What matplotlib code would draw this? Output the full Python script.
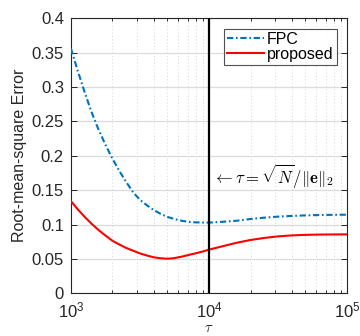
import matplotlib
matplotlib.use("Agg")
import matplotlib.pyplot as plt
import numpy as np

plt.rcParams['font.family'] = ['Liberation Sans', 'DejaVu Sans']
plt.rcParams['mathtext.fontset'] = 'cm'

log_tau = [3.0, 3.05, 3.1, 3.15, 3.2, 3.25, 3.3, 3.35, 3.4, 3.45, 3.5,
           3.55, 3.6, 3.65, 3.7, 3.75, 3.8, 3.85, 3.9, 3.95, 4.0,
           4.1, 4.2, 4.3, 4.4, 4.5, 4.6, 4.7, 4.8, 4.9, 5.0]
fpc = [0.356, 0.323, 0.292, 0.263, 0.238, 0.216, 0.196, 0.178, 0.162, 0.147, 0.136,
       0.128, 0.121, 0.1155, 0.111, 0.108, 0.1055, 0.104, 0.1032, 0.103, 0.1028,
       0.104, 0.1055, 0.108, 0.110, 0.1115, 0.1125, 0.1133, 0.1138, 0.1141, 0.1143]
proposed = [0.134, 0.122, 0.111, 0.101, 0.092, 0.084, 0.0765, 0.071, 0.066, 0.062, 0.058,
            0.055, 0.0523, 0.051, 0.0503, 0.0512, 0.0532, 0.0557, 0.058, 0.0605, 0.0635,
            0.0685, 0.0735, 0.0775, 0.0805, 0.0828, 0.0842, 0.085, 0.0854, 0.0856, 0.0857]
tau_mark = 1e4
yticks = [0, 0.05, 0.1, 0.15, 0.2, 0.25, 0.3, 0.35, 0.4]
ytick_labels = ['0', '0.05', '0.1', '0.15', '0.2', '0.25', '0.3', '0.35', '0.4']

tau = 10 ** np.array(log_tau)

fig = plt.figure(figsize=(3.6, 3.36), dpi=100)
ax = fig.add_axes([0.197, 0.127, 0.767, 0.819])

tc = '#262626'
l1, = ax.plot(tau, fpc, linestyle='-.', color='#0072BD', lw=1.5, label='FPC', zorder=3)
l1.set_dashes((3.0, 1.3, 0.8, 1.3))
ax.plot(tau, proposed, linestyle='-', color='#FF0000', lw=1.5, label='proposed', zorder=3)
ax.axvline(tau_mark, color='black', lw=1.6, zorder=4)

ax.set_xscale('log')
ax.set_xlim(1e3, 1e5)
ax.set_ylim(0, 0.4)
ax.set_yticks(yticks)
ax.set_yticklabels(ytick_labels)
ax.set_xticks([1e3, 1e4, 1e5])

ax.grid(True, which='major', axis='y', color='#dcdcdc', lw=0.9, linestyle='-')
ax.grid(True, which='minor', axis='x', color='#c8c8c8', lw=0.6, linestyle=(0, (1, 3)))
ax.set_axisbelow(True)

ax.tick_params(which='both', direction='in', top=True, right=True, colors=tc,
               labelsize=12, width=0.7)
ax.tick_params(which='major', length=4)
ax.tick_params(which='minor', length=2.5)
ax.tick_params(axis='x', which='major', pad=5)
ax.tick_params(axis='y', which='major', pad=5)
for s in ax.spines.values():
    s.set_color(tc)
    s.set_linewidth(0.8)

ax.set_ylabel('Root-mean-square Error', fontsize=11.5, color=tc, labelpad=3)
ax.set_xlabel(r'$\tau$', fontsize=10.5, color=tc, labelpad=0.5)

ax.text(1.07e4, 0.171, r'$\leftarrow\tau=\sqrt{N}/\|\mathbf{e}\|_2$', fontsize=12,
        va='center', ha='left', color='black', zorder=5)

leg = ax.legend(loc='upper right', fontsize=11.5, frameon=True, fancybox=False,
                edgecolor=tc, borderpad=0.2, labelspacing=0.0, handlelength=2.3,
                handletextpad=0.2, borderaxespad=0.65)
leg.get_frame().set_linewidth(0.8)

fig.savefig('out.png', dpi=100)
